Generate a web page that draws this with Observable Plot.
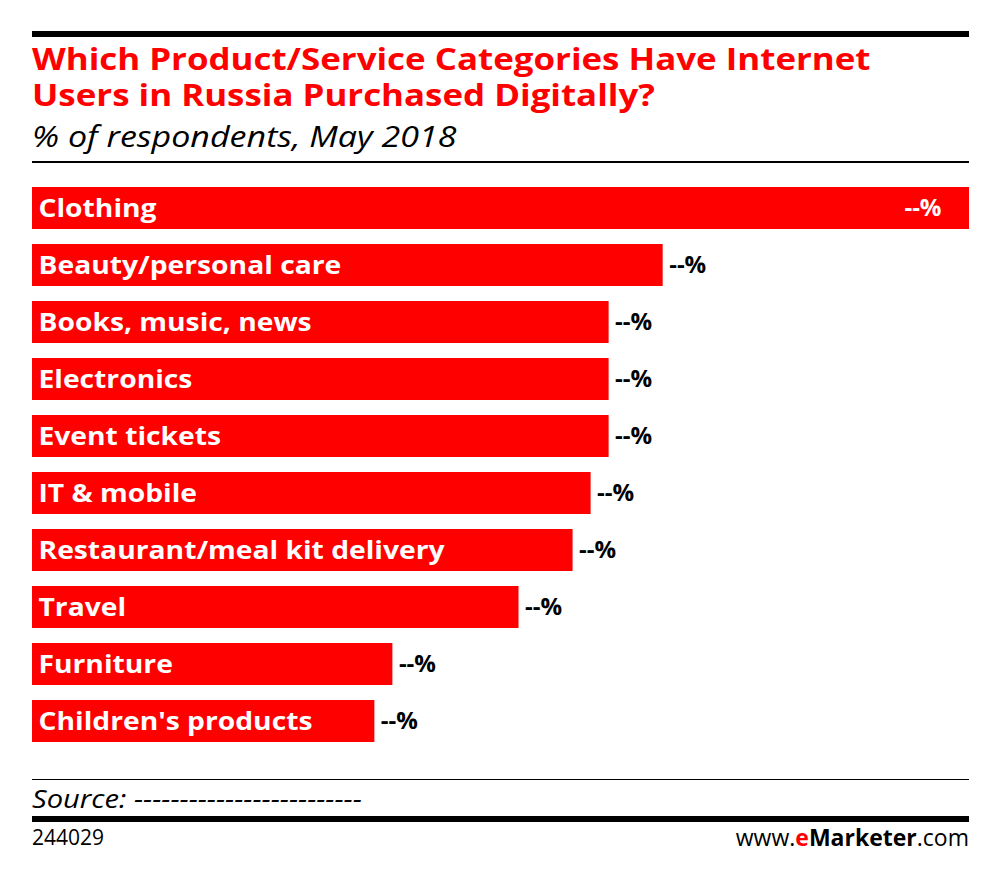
<!DOCTYPE html>
<html>
<head>
<meta charset="utf-8">
<script src="https://cdn.jsdelivr.net/npm/d3@7"></script>
<script src="https://cdn.jsdelivr.net/npm/@observablehq/plot@0.6"></script>
<style>
  html, body { margin:0; padding:0; background:#fff; }
  body { width:1000px; height:878px; position:relative; overflow:hidden; font-family:"Open Sans", sans-serif; }
  .abs { position:absolute; white-space:nowrap; }
  .wide { transform-origin:left center; }
  .rule { position:absolute; left:32px; width:937px; background:#000; }
  .title { left:32px; color:#ff0000; font-weight:700; font-size:31px; line-height:31px; transform:scaleX(1.125); }
  #subtitle { left:32px; top:121px; font-style:italic; font-size:30px; line-height:30px; color:#000; transform:scaleX(1.134); }
  #chart { position:absolute; left:0; top:180px; }
  #source { left:32px; top:786px; font-style:italic; font-size:25px; line-height:25px; color:#000; transform:scaleX(1.165); }
  #id { left:32px; top:827px; font-size:21px; line-height:21px; color:#000; }
  #brand { right:31px; top:826px; font-size:23px; line-height:23px; color:#000; }
  #brand b { font-weight:700; }
  #brand .e { color:#ff0000; }
</style>
</head>
<body>
<div class="rule" style="top:31px;height:6px;"></div>
<div class="abs title wide" style="top:43px;">Which Product/Service Categories Have Internet</div>
<div class="abs title wide" style="top:79px;">Users in Russia Purchased Digitally?</div>
<div id="subtitle" class="abs wide">% of respondents, May 2018</div>
<div class="rule" style="top:161px;height:1.5px;"></div>
<div id="chart"></div>
<div class="rule" style="top:778.5px;height:1.5px;"></div>
<div id="source" class="abs wide">Source: -------------------------</div>
<div class="rule" style="top:816px;height:6px;"></div>
<div id="id" class="abs">244029</div>
<div id="brand" class="abs">www.<b><span class="e">e</span>Marketer</b>.com</div>
<script>
const categories = [
  "Clothing",
  "Beauty/personal care",
  "Books, music, news",
  "Electronics",
  "Event tickets",
  "IT & mobile",
  "Restaurant/meal kit delivery",
  "Travel",
  "Furniture",
  "Children's products"
];
const values = [52, 35, 32, 32, 32, 31, 30, 27, 20, 19];
const valueLabels = ["--%", "--%", "--%", "--%", "--%", "--%", "--%", "--%", "--%", "--%"];

const data = categories.map((c, i) => ({category: c, value: values[i], label: valueLabels[i]}));
const maxValue = d3.max(values);
const inside = data.filter(d => d.value === maxValue);
const outside = data.filter(d => d.value !== maxValue);

const chart = Plot.plot({
  width: 1000,
  height: 590,
  marginLeft: 32,
  marginRight: 31,
  marginTop: 0,
  marginBottom: 0,
  style: {fontFamily: "'Open Sans', sans-serif", background: "transparent", overflow: "visible"},
  x: {domain: [0, maxValue], axis: null},
  y: {domain: categories, axis: null, range: [7, 570.7], paddingInner: 0.255, paddingOuter: 0, align: 0},
  marks: [
    Plot.barX(data, {x: "value", y: "category", fill: "#ff0000"}),
    Plot.text(data, {x: 0, y: "category", text: "category", textAnchor: "start", dx: 6, fill: "#fff", fontWeight: "bold", fontSize: 25}),
    Plot.text(outside, {x: "value", y: "category", text: "label", textAnchor: "start", dx: 6, fill: "#000", fontWeight: "bold", fontSize: 24}),
    Plot.text(inside, {x: "value", y: "category", text: "label", textAnchor: "end", dx: -28, fill: "#fff", fontWeight: "bold", fontSize: 24})
  ]
});
// widen the category labels to match the reference's broader typeface
chart.querySelectorAll("text").forEach(t => {
  if (categories.includes(t.textContent)) {
    const tr = t.getAttribute("transform") || "";
    t.setAttribute("transform", tr + " scale(1.13,1)");
  }
});
document.getElementById("chart").appendChild(chart);
</script>
</body>
</html>
